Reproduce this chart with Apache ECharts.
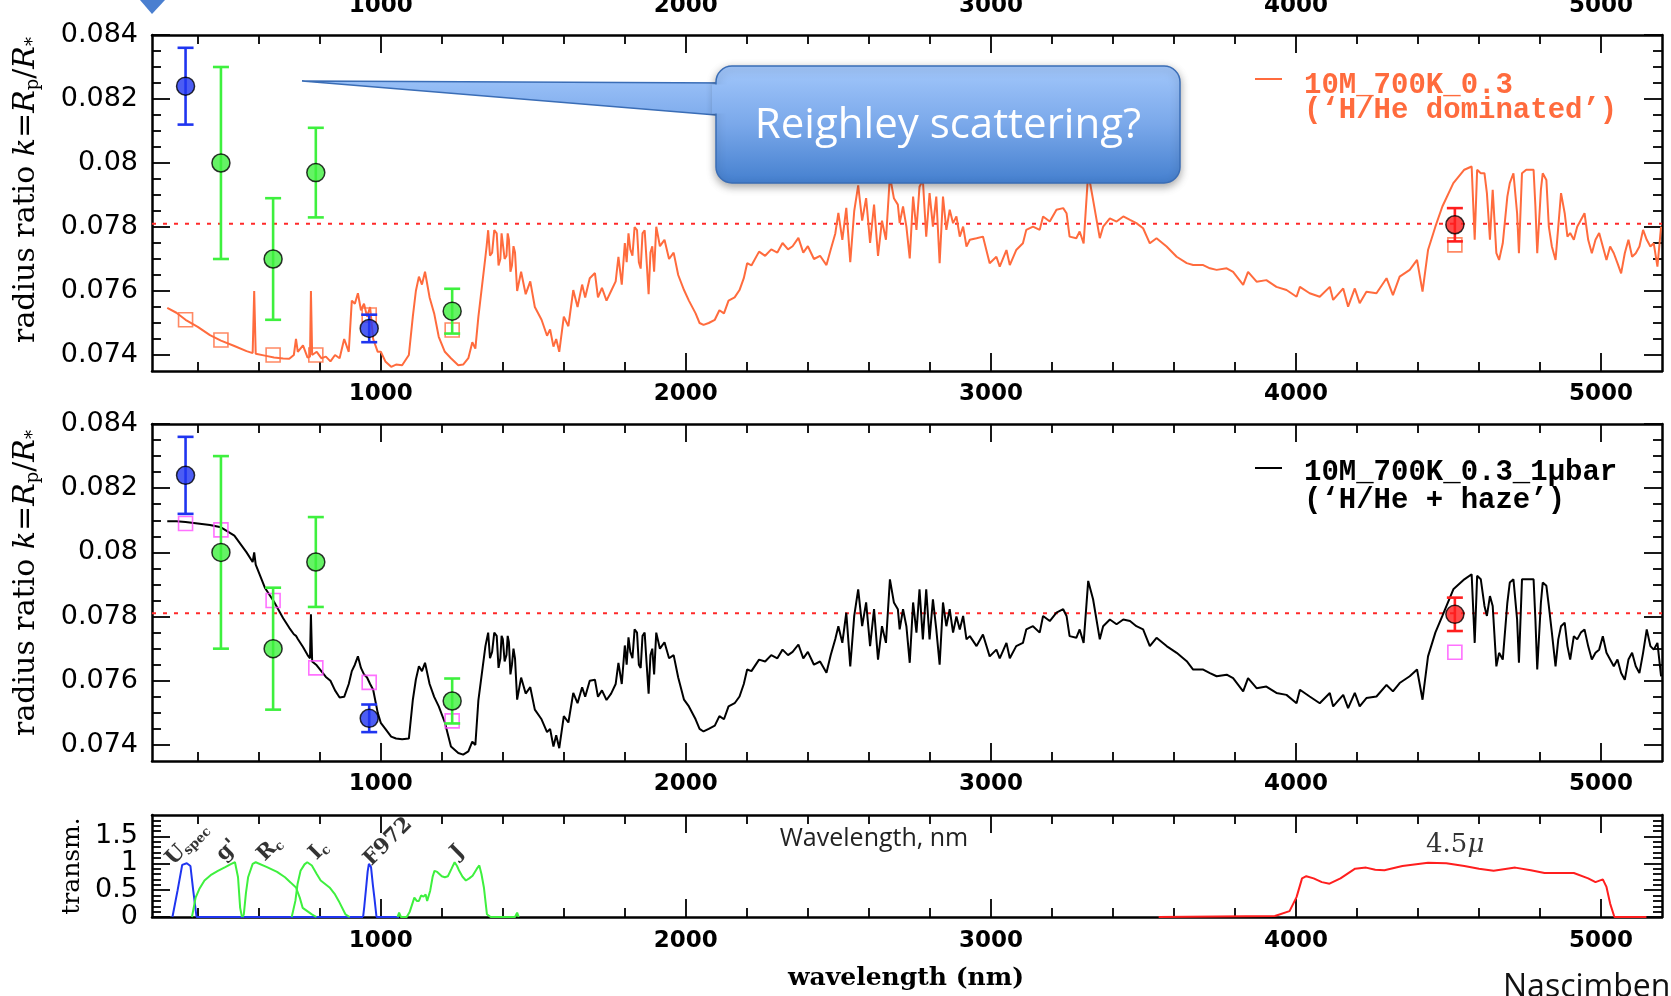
<!DOCTYPE html>
<html><head><meta charset="utf-8">
<script src="https://cdn.jsdelivr.net/npm/echarts@6/dist/echarts.min.js"></script>
<style>html,body{margin:0;padding:0;background:#fff}#c{width:1671px;height:996px}</style>
</head><body><div id="c"></div>
<script>
// ---------------- DATA ----------------
const X_MIN = 250, X_MAX = 5200;
const xMajorTicks = [1000, 2000, 3000, 4000, 5000];
const xMinorTicks = [400, 600, 800, 1200, 1400, 1600, 1800, 2200, 2400, 2600, 2800, 3200, 3400, 3600, 3800, 4200, 4400, 4600, 4800];
const kMajorTicks = [0.074, 0.076, 0.078, 0.08, 0.082, 0.084];
const kMinorTicks = [0.0745, 0.075, 0.0755, 0.0765, 0.077, 0.0775, 0.0785, 0.079, 0.0795, 0.0805, 0.081, 0.0815, 0.0825, 0.083, 0.0835];
const tMajorTicks = [0, 0.5, 1, 1.5];
const tMinorTicks = [0.1, 0.2, 0.3, 0.4, 0.6, 0.7, 0.8, 0.9, 1.1, 1.2, 1.3, 1.4, 1.6, 1.7, 1.8];

// photometric bands (observations)
const bands = ['U_spec', "g'", 'R_c', 'I_c', 'F972', 'J', '4.5\u03bc'];
const bandWave = [360, 476, 647, 787, 962, 1234, 4521];
const obsK = [0.0824, 0.0800, 0.0770, 0.0797, 0.07483, 0.07537, 0.07807];
const obsErr = [0.0012, 0.0030, 0.0019, 0.0014, 0.00043, 0.0007, 0.00052];
const bandModelHHe = [0.0751, 0.07447, 0.0740, 0.0740, 0.07525, 0.07478, 0.07744];
const bandModelHaze = [0.0809, 0.0807, 0.0785, 0.0764, 0.07595, 0.07475, 0.07689];
const kReference = 0.0781;

// model spectra (wavelength nm)
const modelWave = [
  300,330,360,400,440,476,520,560,580,585,590,620,650,680,700,715,722,728,745,760,768,771,775,790,805,820,835,850,865,880,895,905,915,925,935,945,955,965,975,990,
  1000,1015,1034,1050,1070,1092,1105,1115,1125,1135,1145,1160,1175,1190,1210,1230,1254,1270,1287,1300,1310,1320,
  1343,1347,1352,1358,1365,1372,1380,1386,1392,1396,1400,1406,1412,1416,1420,1425,1430,1435,1440,1447,
  1460,1475,1490,1505,1527,1545,1555,1566,1575,1585,1600,1615,1631,1645,1660,1670,1685,1702,1712,1725,1740,1755,1770,1779,1790,
  1800,1806,1812,1818,1825,1832,1840,1846,1852,1858,1865,1871,1878,1884,1890,1896,1903,
  1915,1930,1945,1960,1975,1994,2010,2032,2045,2058,2075,2095,2110,2125,2140,2160,2176,2190,2201,2215,2240,2260,2280,2300,2317,2335,2350,2369,2385,2400,2420,2440,2461,2475,2490,2500,
  2513,2526,2539,2552,2565,2578,2591,2604,2617,2630,2643,2656,2669,2682,2695,
  2701,2712,2723,2734,2745,2756,2766,2777,2788,2799,2810,2821,2832,2843,2854,2865,2876,2887,2898,2909,2920,
  2931,2953,2974,2996,3018,3029,3051,3062,3083,3105,3116,3138,3160,3171,3193,3215,3237,3248,3258,3280,3291,3304,3319,3335,3357,3368,3390,3412,3434,3456,3477,3499,3521,3543,3576,3609,3642,3663,3696,3718,3740,3773,3794,3827,3843,3871,3903,3936,3969,4002,4013,4045,4078,4111,4122,4155,4171,4193,4209,4231,4264,4297,4318,4340,
  4373,4397,4415,4433,4457,4480,4516,4552,4576,4586,4594,4606,4618,4626,4636,4645,4657,4666,4678,4693,4701,4713,4725,4731,4741,4755,4767,4779,4785,4791,4803,4809,4821,4829,4839,4851,4860,4869,4881,4890,4899,4911,4922,4934,4946,4958,4970,4982,4994,5006,5018,5030,5042,5054,5066,5078,5090,5102,5114,5126,5138,5150,5162,5173,5185,5197
];
// 10M_700K_0.3 ('H/He dominated')
const modelHHe = [
  0.07547,0.07532,0.0751,0.07488,0.07462,0.07445,0.07428,0.07412,0.07406,0.0760,0.07404,0.07398,0.07392,0.07389,0.07388,0.0740,0.0745,0.0741,0.0743,0.07392,0.07395,0.0760,0.0740,0.0741,0.0739,0.07395,0.0738,0.0740,0.0739,0.0745,0.0741,0.0757,0.0756,0.07593,0.0754,0.0756,0.0752,0.0755,0.0745,0.0741,
  0.0741,0.0738,0.07363,0.0737,0.07368,0.0740,0.0752,0.0760,0.07645,0.0762,0.0766,0.0758,0.0753,0.07457,0.0741,0.0739,0.07368,0.0737,0.0739,0.0744,0.0742,0.0752,
  0.07707,0.0774,0.0779,0.0771,0.0772,0.0779,0.0778,0.0768,0.0770,0.0778,0.07786,0.0770,0.0771,0.0778,0.0776,0.0766,0.0768,0.0774,0.0772,0.0760,
  0.0766,0.0759,0.0763,0.0755,0.0751,0.0746,0.0748,0.07426,0.0745,0.0741,0.0752,0.0749,0.07603,0.0755,0.0762,0.0758,0.0764,0.07656,0.0758,0.0761,0.0757,0.0760,0.0763,0.07707,0.0762,
  0.0775,0.0769,0.0778,0.0773,0.0771,0.0780,0.0779,0.0769,0.0767,0.0778,0.0779,0.0770,0.0759,0.0772,0.0774,0.0766,0.07801,
  0.0774,0.0776,0.0770,0.0772,0.0765,0.07603,0.0757,0.0753,0.0750,0.07494,0.0750,0.0751,0.0754,0.0753,0.0757,0.0758,0.07603,0.0764,0.07687,0.0768,0.07723,0.0771,0.0773,0.0772,0.0775,0.0773,0.0774,0.07766,0.0772,0.0774,0.0770,0.0771,0.07681,0.0773,0.0778,0.07844,
  0.0776,0.0786,0.0769,0.0785,0.0793,0.0782,0.0789,0.0775,0.0787,0.0771,0.0782,0.0776,0.0796,0.0789,0.0787,
  0.07812,0.07864,0.07801,0.07702,0.07895,0.07791,0.07926,0.07947,0.0777,0.07906,0.07801,0.07895,0.07687,0.07895,0.07791,0.07854,0.07812,0.07833,0.0777,0.07801,0.07739,
  0.0776,0.07765,0.0777,0.07687,0.07707,0.07676,0.07728,0.07681,0.07728,0.07749,0.07791,0.07801,0.07791,0.07833,0.07817,0.07854,0.07859,0.07843,0.0777,0.07765,0.07786,0.07749,0.0797,0.07885,0.07765,0.07801,0.07827,0.07817,0.07833,0.07822,0.07812,0.07796,0.07749,0.07765,0.07739,0.07707,0.07687,0.07681,0.07681,0.07671,0.07666,0.07671,0.0766,0.07619,0.0766,0.07629,0.07634,0.07613,0.07603,0.07582,0.07613,0.07593,0.07582,0.07613,0.07572,0.07608,0.07551,0.07608,0.07562,0.07598,0.07593,0.0764,0.07587,0.07645,
  0.07666,0.07697,0.07598,0.07728,0.07801,0.07864,0.07937,0.07979,0.07989,0.0776,0.07979,0.07968,0.07968,0.07906,0.0776,0.07916,0.07718,0.07697,0.07749,0.07895,0.07937,0.07968,0.07843,0.07718,0.07968,0.07979,0.07979,0.07979,0.07864,0.07718,0.07916,0.07968,0.07947,0.07801,0.07739,0.07697,0.07801,0.07906,0.07843,0.0777,0.07781,0.0776,0.07801,0.07822,0.07843,0.0776,0.07718,0.0776,0.07781,0.07739,0.07697,0.07739,0.07718,0.07687,0.07655,0.07718,0.0776,0.07707,0.07718,0.07739,0.07791,0.0776,0.07739,0.07749,0.07676,0.07801
];
// 10M_700K_0.3_1μbar ('H/He + haze')
const modelHaze = [
  0.08097,0.08097,0.08095,0.0809,0.08085,0.08078,0.08052,0.0800,0.0797,0.0800,0.07962,0.0789,0.07846,0.07795,0.07765,0.07745,0.0774,0.0773,0.07705,0.0768,0.0767,0.07807,0.0766,0.07648,0.0763,0.07612,0.0760,0.0757,0.07548,0.0755,0.0759,0.0763,0.0765,0.07676,0.0764,0.0762,0.0761,0.0759,0.07572,0.0750,
  0.07469,0.0745,0.07426,0.0742,0.07418,0.0742,0.0754,0.07604,0.07645,0.0763,0.07656,0.0759,0.0755,0.0752,0.0747,0.07395,0.07375,0.0737,0.0738,0.0741,0.0740,0.0754,
  0.07708,0.0771,0.0775,0.0767,0.0769,0.0775,0.0774,0.0764,0.0767,0.0774,0.0773,0.0766,0.0768,0.0774,0.0772,0.0762,0.0765,0.0770,0.0767,0.07541,
  0.0761,0.0756,0.0758,0.0751,0.0748,0.0744,0.0745,0.07395,0.0743,0.0739,0.0749,0.0747,0.07562,0.0753,0.0758,0.0755,0.0760,0.07603,0.0755,0.0757,0.0754,0.0756,0.0759,0.07656,0.0759,
  0.0771,0.0765,0.07735,0.0769,0.0767,0.0776,0.0775,0.0765,0.0764,0.0774,0.0775,0.0766,0.0756,0.0768,0.0770,0.0762,0.0775,
  0.0770,0.0772,0.0767,0.0768,0.0761,0.07541,0.0752,0.0748,0.0745,0.07442,0.0745,0.0746,0.0749,0.0748,0.0752,0.0753,0.07551,0.0759,0.07635,0.0763,0.07666,0.0766,0.0768,0.0767,0.07697,0.0768,0.0769,0.07713,0.0767,0.0769,0.0765,0.0766,0.07625,0.0768,0.0773,0.0777,
  0.07718,0.07812,0.07645,0.07802,0.07885,0.0777,0.07844,0.07708,0.07823,0.07666,0.0777,0.07718,0.07916,0.07844,0.07823,
  0.0776,0.07823,0.0777,0.07656,0.07844,0.0775,0.07885,0.07729,0.07885,0.07729,0.07854,0.0776,0.0765,0.07844,0.0777,0.07823,0.0775,0.0780,0.0776,0.07802,0.07729,
  0.07739,0.07708,0.07744,0.07676,0.07697,0.0767,0.07718,0.0767,0.07708,0.07718,0.0776,0.0777,0.0775,0.07802,0.07786,0.07812,0.07823,0.07802,0.07739,0.07734,0.0776,0.07718,0.07911,0.07854,0.07729,0.0777,0.07791,0.07776,0.07791,0.07786,0.0777,0.0776,0.07708,0.07734,0.07708,0.07687,0.07661,0.07635,0.07635,0.07624,0.07614,0.07619,0.07608,0.07567,0.07608,0.07577,0.07582,0.07562,0.07556,0.0753,0.07572,0.07551,0.0753,0.07562,0.0752,0.07556,0.07515,0.07562,0.0752,0.07546,0.07551,0.07587,0.07567,0.07593,
  0.07614,0.07635,0.07541,0.07676,0.0775,0.07802,0.07885,0.07916,0.07932,0.07718,0.07927,0.07916,0.07833,0.07802,0.07864,0.07833,0.07645,0.07687,0.07666,0.07843,0.07906,0.07916,0.07791,0.07656,0.07916,0.07916,0.07916,0.07916,0.07791,0.07635,0.07843,0.07906,0.07896,0.07833,0.0775,0.07645,0.07729,0.0777,0.07781,0.07708,0.07666,0.07739,0.07729,0.0775,0.0776,0.07708,0.07666,0.07687,0.07697,0.07739,0.07687,0.07666,0.07645,0.07666,0.07624,0.07603,0.07666,0.07687,0.07645,0.07624,0.07687,0.0776,0.07708,0.07697,0.07718,0.07614
];

// filter transmission curves [wavelength nm, transmission]
const filterUspec = [[317,0],[334,0.5],[349,0.97],[364,1.0],[376,0.95],[385,0.5],[396,0],[942,0]];
const filterG = [[381,0],[393,0.36],[405,0.52],[422,0.68],[445,0.79],[466,0.86],[490,0.93],[510,0.99],[522,1.02],[532,0.74],[539,0.17],[545,0]];
const filterRc = [[547,0],[551,0.05],[558,0.45],[565,0.74],[580,0.99],[590,1.02],[627,0.93],[660,0.84],[686,0.74],[705,0.64],[722,0.55],[735,0.35],[744,0.17],[774,0.05],[789,0]];
const filterIc = [[708,0],[720,0.3],[727,0.61],[737,0.86],[750,0.98],[759,1.02],[774,0.96],[790,0.8],[803,0.68],[832,0.55],[850,0.42],[862,0.3],[884,0.05],[898,0]];
const filterF972 = [[942,0],[946,0.2],[952,0.55],[957,0.85],[961,0.99],[965,0.98],[968,0.93],[974,0.6],[979,0.36],[986,0],[1060,0]];
const filterJ = [[1055,0],[1060,0.08],[1066,0],[1085,0],[1095,0.1],[1110,0.36],[1118,0.3],[1125,0.3],[1132,0.4],[1140,0.38],[1147,0.42],[1152,0.3],[1162,0.49],[1170,0.75],[1176,0.86],[1185,0.84],[1191,0.86],[1200,0.76],[1210,0.74],[1220,0.76],[1232,0.9],[1242,1.02],[1250,0.95],[1257,0.86],[1268,0.75],[1279,0.68],[1290,0.72],[1301,0.77],[1315,0.9],[1323,0.96],[1330,0.8],[1338,0.55],[1348,0.05],[1360,0],[1440,0],[1447,0.08],[1452,0]];
const filter45 = [[3550,0],[3931,0.02],[3979,0.11],[4002,0.37],[4020,0.72],[4034,0.76],[4058,0.72],[4085,0.65],[4110,0.62],[4146,0.72],[4194,0.9],[4230,0.92],[4260,0.88],[4290,0.87],[4349,0.95],[4433,1.01],[4493,1.0],[4552,0.95],[4600,0.9],[4648,0.86],[4719,0.92],[4770,0.87],[4815,0.82],[4911,0.82],[4958,0.72],[4982,0.65],[5006,0.7],[5018,0.56],[5030,0.25],[5044,0],[5149,0]];
const filterLabelWave = [366, 497, 636, 797, 1024, 1252, 4522];
const filterLabelT = [1.36, 1.24, 1.27, 1.24, 1.4, 1.21, 1.34];

// ---------------- STYLE ----------------
const ORANGE = '#ff6b3d', BLUE = '#1f35f0', GREEN = '#3ef03e', RED = '#ff1e1e', MAGENTA = '#ff4dff';
function bandColor(b) {
  if (b === 'U_spec' || b === 'F972') return BLUE;
  if (b.indexOf('4.5') === 0) return RED;
  return GREEN;
}
const gridsDef = [
  {left:152, top:35, width:1510, height:336},
  {left:152, top:424, width:1510, height:337},
  {left:152, top:815, width:1510, height:102}
];
const tickStyle = {color:'#000', width:1.8};
const frameLine = {show:true, onZero:false, lineStyle:{color:'#000', width:2.5}};

function xAxes(g, labelMargin) {
  const base = {type:'value', gridIndex:g, min:X_MIN, max:X_MAX, splitLine:{show:false}};
  return [
    Object.assign({}, base, {position:'bottom', axisLine:frameLine,
      axisTick:{show:true, inside:true, length:18, customValues:xMajorTicks, lineStyle:tickStyle},
      axisLabel:{show:true, customValues:xMajorTicks, margin:labelMargin, fontFamily:'DejaVu Sans', fontWeight:'bold', fontSize:23, color:'#000', formatter:function(v){return String(v);}}}),
    Object.assign({}, base, {position:'bottom', axisLine:{show:false, onZero:false},
      axisTick:{show:true, inside:true, length:9, customValues:xMinorTicks, lineStyle:tickStyle}, axisLabel:{show:false}}),
    Object.assign({}, base, {position:'top', axisLine:frameLine,
      axisTick:{show:true, inside:true, length:18, customValues:xMajorTicks, lineStyle:tickStyle}, axisLabel:{show:false}}),
    Object.assign({}, base, {position:'top', axisLine:{show:false, onZero:false},
      axisTick:{show:true, inside:true, length:9, customValues:xMinorTicks, lineStyle:tickStyle}, axisLabel:{show:false}})
  ];
}
function yAxes(g, min, max, major, minor) {
  const base = {type:'value', gridIndex:g, min:min, max:max, splitLine:{show:false}};
  return [
    Object.assign({}, base, {position:'left', axisLine:frameLine,
      axisTick:{show:true, inside:true, length:18, customValues:major, lineStyle:tickStyle},
      axisLabel:{show:true, customValues:major, margin:14, fontFamily:'DejaVu Sans', fontSize:27, color:'#000', formatter:function(v){return String(v);}}}),
    Object.assign({}, base, {position:'left', axisLine:{show:false, onZero:false},
      axisTick:{show:true, inside:true, length:9, customValues:minor, lineStyle:tickStyle}, axisLabel:{show:false}}),
    Object.assign({}, base, {position:'right', axisLine:frameLine,
      axisTick:{show:true, inside:true, length:18, customValues:major, lineStyle:tickStyle}, axisLabel:{show:false}}),
    Object.assign({}, base, {position:'right', axisLine:{show:false, onZero:false},
      axisTick:{show:true, inside:true, length:9, customValues:minor, lineStyle:tickStyle}, axisLabel:{show:false}})
  ];
}

function panelSeries(g, modelVals, bandVals, curveColor, squareColor) {
  const xi = 4 * g, yi = 4 * g;
  return [
    {type:'line', xAxisIndex:xi, yAxisIndex:yi, z:1, silent:true, showSymbol:false, symbol:'none',
      data:[[X_MIN, kReference], [X_MAX, kReference]],
      lineStyle:{color:'#ff2a2a', width:2, type:[4, 7]}},
    {type:'line', xAxisIndex:xi, yAxisIndex:yi, z:2, showSymbol:false, symbol:'none', clip:true,
      data:modelWave.map(function(w, i){return [w, modelVals[i]];}),
      lineStyle:{color:curveColor, width:2}},
    {type:'scatter', xAxisIndex:xi, yAxisIndex:yi, z:3, symbol:'rect', symbolSize:14,
      data:bandWave.map(function(w, i){return [w, bandVals[i]];}),
      itemStyle:{color:'rgba(255,255,255,0)', borderColor:squareColor, borderWidth:1.6}},
    {type:'custom', xAxisIndex:xi, yAxisIndex:yi, z:4, clip:true,
      encode:{x:0, y:[1, 2]},
      data:bandWave.map(function(w, i){return [w, obsK[i] - obsErr[i], obsK[i] + obsErr[i]];}),
      renderItem:function(params, api) {
        const lo = api.coord([api.value(0), api.value(1)]);
        const hi = api.coord([api.value(0), api.value(2)]);
        const c = bandColor(bands[params.dataIndex]);
        const w = 8, st = {stroke:c, lineWidth:2.6};
        return {type:'group', children:[
          {type:'line', shape:{x1:lo[0], y1:lo[1], x2:hi[0], y2:hi[1]}, style:st},
          {type:'line', shape:{x1:lo[0]-w, y1:lo[1], x2:lo[0]+w, y2:lo[1]}, style:st},
          {type:'line', shape:{x1:hi[0]-w, y1:hi[1], x2:hi[0]+w, y2:hi[1]}, style:st}
        ]};
      }},
    {type:'scatter', xAxisIndex:xi, yAxisIndex:yi, z:5, symbol:'circle', symbolSize:18,
      data:bandWave.map(function(w, i){
        return {value:[w, obsK[i]], itemStyle:{color:bandColor(bands[i]), borderColor:'#000', borderWidth:1.5}};
      })}
  ];
}

function richName(n) {
  const p = n.split('_');
  return p.length > 1 ? '{n|' + p[0] + '}{s|' + p[1] + '}' : '{n|' + n + '}';
}
const transSeries = [
  [filterUspec, BLUE], [filterF972, BLUE], [filterG, GREEN], [filterRc, GREEN], [filterIc, GREEN], [filterJ, GREEN], [filter45, RED]
].map(function(f){
  return {type:'line', xAxisIndex:8, yAxisIndex:8, z:3, showSymbol:false, symbol:'none', data:f[0], lineStyle:{color:f[1], width:2}};
});
transSeries.push({
  type:'scatter', xAxisIndex:8, yAxisIndex:8, z:6, symbolSize:0,
  data:filterLabelWave.map(function(w, i){
    const is45 = bands[i].indexOf('4.5') === 0;
    return {value:[w, filterLabelT[i]], label:{show:true, position:'inside', rotate: is45 ? 0 : 45,
      formatter: is45 ? '{m|4.5}{mi|\u03bc}' : richName(bands[i]),
      rich:{
        n:{fontFamily:'DejaVu Serif', fontWeight:'bold', fontSize:21, color:'#000'},
        s:{fontFamily:'DejaVu Serif', fontWeight:'bold', fontSize:13, color:'#000', padding:[11,0,0,0]},
        m:{fontFamily:'DejaVu Serif', fontSize:26, color:'#000'},
        mi:{fontFamily:'DejaVu Serif', fontStyle:'italic', fontSize:26, color:'#000'}
      }}};
  })
});

const option = {
  animation:false,
  backgroundColor:'#fff',
  grid: gridsDef.map(function(g){ return Object.assign({show:false, containLabel:false, outerBoundsMode:'none'}, g); }),
  xAxis: [].concat(xAxes(0, 12), xAxes(1, 12), xAxes(2, 13)),
  yAxis: [].concat(yAxes(0, 0.0735, 0.084, kMajorTicks, kMinorTicks), yAxes(1, 0.0735, 0.084, kMajorTicks, kMinorTicks), yAxes(2, 0, 1.9, tMajorTicks, tMinorTicks)),
  series: [].concat(panelSeries(0, modelHHe, bandModelHHe, ORANGE, ORANGE), panelSeries(1, modelHaze, bandModelHaze, '#000', MAGENTA), transSeries)
};

const chart = echarts.init(document.getElementById('c'), null, {renderer:'canvas', width:1671, height:996});
chart.setOption(option);

// ---------------- ANNOTATIONS ----------------
const yTitleRich = {
  i:{fontFamily:'DejaVu Serif', fontStyle:'italic', fontSize:30, color:'#000'},
  t:{fontFamily:'DejaVu Serif', fontSize:30, color:'#000'},
  s:{fontFamily:'DejaVu Serif', fontSize:18, color:'#000', padding:[14,0,0,0]}
};
const yTitleText = '{t|radius ratio }{i|k}{t|=}{i|R}{s|p}{t|/}{i|R}{s|*}';
const boxGrad = {type:'linear', x:0, y:66, x2:0, y2:183, global:true,
  colorStops:[{offset:0, color:'#a2c7fb'}, {offset:0.5, color:'#7aa8ea'}, {offset:1, color:'#4580cf'}]};
const graphics = [];
// cut-off labels of the panel above
xMajorTicks.forEach(function(v){
  const p = chart.convertToPixel({xAxisIndex:0}, v);
  graphics.push({type:'text', x:p, y:18, z:50, style:{text:String(v), font:'bold 23px "DejaVu Sans"', fill:'#000', textAlign:'center', textVerticalAlign:'bottom', align:'center', verticalAlign:'bottom'}});
});
const midText = {textAlign:'center', textVerticalAlign:'middle', align:'center', verticalAlign:'middle'};
const leftText = {textAlign:'left', textVerticalAlign:'middle', align:'left', verticalAlign:'middle'};
graphics.push(
  {type:'polygon', z:60, shape:{points:[[140,0],[165,0],[152,14]]}, style:{fill:'#4a7fd0'}},
  {type:'text', x:26, y:190, rotation:Math.PI/2, z:50, style:Object.assign({text:yTitleText, rich:yTitleRich}, midText)},
  {type:'text', x:26, y:583, rotation:Math.PI/2, z:50, style:Object.assign({text:yTitleText, rich:yTitleRich}, midText)},
  {type:'text', x:72, y:866, rotation:Math.PI/2, z:50, style:Object.assign({text:'transm.', font:'25px "DejaVu Serif"', fill:'#000'}, midText)},
  {type:'text', x:906, y:978, z:50, style:Object.assign({text:'wavelength (nm)', font:'bold 25px "DejaVu Serif"', fill:'#000'}, midText)},
  {type:'text', x:874, y:839, z:50, style:Object.assign({text:'Wavelength, nm', font:'25px "Open Sans"', fill:'#222'}, midText)},
  {type:'text', x:1503, y:988, z:50, style:Object.assign({text:'Nascimbeni', font:'32px "Open Sans"', fill:'#111'}, leftText)},
  // legends
  {type:'line', z:50, shape:{x1:1255, y1:79, x2:1282, y2:79}, style:{stroke:ORANGE, lineWidth:2}},
  {type:'text', x:1304, y:86, z:50, style:Object.assign({text:'10M_700K_0.3', font:'bold 29px "Liberation Mono"', fill:ORANGE}, leftText)},
  {type:'text', x:1304, y:111, z:50, style:Object.assign({text:'(\u2018H/He dominated\u2019)', font:'bold 29px "Liberation Mono"', fill:ORANGE}, leftText)},
  {type:'line', z:50, shape:{x1:1255, y1:468, x2:1282, y2:468}, style:{stroke:'#000', lineWidth:2}},
  {type:'text', x:1304, y:473, z:50, style:Object.assign({text:'10M_700K_0.3_1\u03bcbar', font:'bold 29px "Liberation Mono"', fill:'#000'}, leftText)},
  {type:'text', x:1304, y:501, z:50, style:Object.assign({text:'(\u2018H/He + haze\u2019)', font:'bold 29px "Liberation Mono"', fill:'#000'}, leftText)},
  // callout
  {type:'polygon', z:100, shape:{points:[[302,81],[730,83],[730,115],[716,115]]}, style:{fill:boxGrad, stroke:'#3a6db6', lineWidth:1.5}},
  {type:'rect', z:101, shape:{x:716, y:66, width:464, height:117, r:16}, style:{fill:boxGrad, stroke:'#3a6db6', lineWidth:1.5, shadowBlur:8, shadowColor:'rgba(0,0,0,0.35)', shadowOffsetY:3}},
  {type:'polygon', z:102, shape:{points:[[712,84.5],[734,84.5],[734,113.5],[712,113.5]]}, style:{fill:boxGrad}},
  {type:'text', x:948, y:126, z:103, style:Object.assign({text:'Reighley scattering?', font:'42px "Open Sans"', fill:'#fff'}, midText)}
);
chart.setOption({graphic: graphics});
</script></body></html>
